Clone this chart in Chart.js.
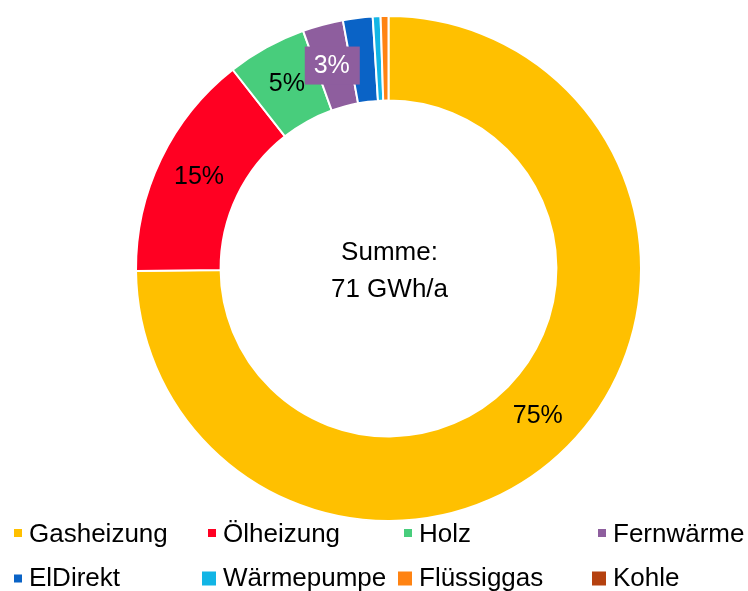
<!DOCTYPE html>
<html>
<head>
<meta charset="utf-8">
<script src="https://cdn.jsdelivr.net/npm/chart.js@4.4.0/dist/chart.umd.min.js"></script>
<style>
  html, body { margin: 0; padding: 0; background: #fff; }
  #wrap { position: relative; width: 748px; height: 591px; }
</style>
</head>
<body>
<div id="wrap"><canvas id="heat-chart" width="748" height="591"></canvas></div>
<script>
// heating energy share by source (percent of total)
const categories = ["Gasheizung", "Ölheizung", "Holz", "Fernwärme", "ElDirekt", "Wärmepumpe", "Flüssiggas", "Kohle"];
const shares = [75.0, 14.6, 5.1, 2.6, 1.9, 0.5, 0.5, 0];
const colors = ["#FFC000", "#FF0022", "#48CD7C", "#8E5E9E", "#0A63C6", "#12B5E5", "#FF8312", "#B5410F"];
const centerText = ["Summe:", "71 GWh/a"];

const FONT = '"Liberation Sans", Arial, sans-serif';

// percent labels in the middle of the ring
const sliceLabels = {
  id: "sliceLabels",
  afterDatasetsDraw(chart) {
    const ctx = chart.ctx;
    const total = shares.reduce((a, b) => a + b, 0);
    const arcs = chart.getDatasetMeta(0).data;
    ctx.save();
    ctx.font = "25px " + FONT;
    ctx.textAlign = "center";
    ctx.textBaseline = "middle";
    arcs.forEach((arc, i) => {
      const pct = shares[i] / total * 100;
      if (pct < 2.5) return;
      const txt = Math.round(pct) + "%";
      const p = arc.getCenterPoint();
      if (pct < 4) {
        // small slice: label sits in a box of the slice colour
        ctx.fillStyle = colors[i];
        ctx.fillRect(p.x - 29, p.y - 19, 55, 38);
        ctx.fillStyle = "#fff";
        ctx.fillText(txt, p.x - 2, p.y + 1);
      } else {
        ctx.fillStyle = "#000";
        ctx.fillText(txt, p.x, p.y);
      }
    });
    ctx.restore();
  }
};

const centerLabel = {
  id: "centerLabel",
  afterDraw(chart) {
    const ctx = chart.ctx;
    const arc = chart.getDatasetMeta(0).data[0];
    ctx.save();
    ctx.font = "26px " + FONT;
    ctx.fillStyle = "#000";
    ctx.textAlign = "center";
    ctx.textBaseline = "alphabetic";
    ctx.fillText(centerText[0], arc.x + 1, 260);
    ctx.fillText(centerText[1], arc.x + 1, 297);
    ctx.restore();
  }
};

// fixed 4-column legend like the original
const gridLegend = {
  id: "gridLegend",
  afterDraw(chart) {
    const ctx = chart.ctx;
    const textX = [29, 223, 419, 613];
    const baseY = [542, 586];
    ctx.save();
    ctx.font = "26px " + FONT;
    ctx.textBaseline = "alphabetic";
    categories.forEach((name, i) => {
      const col = i % 4, row = Math.floor(i / 4);
      const sq = i >= 5 ? 14 : 8;
      const cy = row === 0 ? 533 : 578.5;
      ctx.fillStyle = colors[i];
      ctx.fillRect(textX[col] - 7 - sq, cy - sq / 2, sq, sq);
      ctx.fillStyle = "#000";
      ctx.fillText(name, textX[col], baseY[row]);
    });
    ctx.restore();
  }
};

new Chart(document.getElementById("heat-chart"), {
  type: "doughnut",
  data: {
    labels: categories,
    datasets: [{
      data: shares,
      backgroundColor: colors,
      borderColor: "#fff",
      borderWidth: 2,
      hoverOffset: 0
    }]
  },
  options: {
    responsive: false,
    animation: false,
    cutout: "66.5%",
    layout: { padding: { top: 15, bottom: 69, left: 135, right: 106 } },
    plugins: {
      legend: { display: false },
      tooltip: { enabled: false }
    }
  },
  plugins: [sliceLabels, centerLabel, gridLegend]
});
</script>
</body>
</html>
